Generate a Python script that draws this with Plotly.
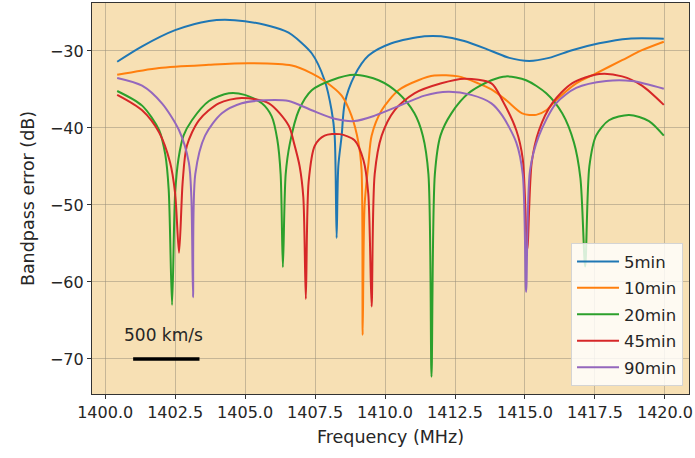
import plotly.graph_objects as go

# ---- data ----
f_5 = [1400.43, 1401.32, 1402.5, 1403.71, 1404.63, 1405.7, 1406.42, 1406.67, 1407.38, 1407.84,
       1408.09, 1408.2, 1408.27, 1408.33, 1408.45, 1408.56, 1408.91, 1409.41, 1410.23, 1411.41,
       1412.0, 1412.83, 1413.8, 1414.44, 1415.15, 1415.86, 1416.68, 1417.65, 1418.7, 1419.96]
db_5 = [-31.4, -29.4, -27.3, -26.1, -26.0, -26.6, -27.4, -27.9, -30.3, -33.8,
        -37.7, -41.0, -54.3, -45.0, -41.0, -36.8, -33.2, -30.6, -29.0, -28.1,
        -28.1, -28.7, -30.0, -30.9, -31.3, -30.9, -29.9, -29.0, -28.4, -28.4]

f_10 = [1400.43, 1401.93, 1403.7, 1405.13, 1406.67, 1407.38, 1407.84, 1408.45, 1408.8, 1409.05,
        1409.16, 1409.2, 1409.27, 1409.41, 1409.52, 1409.88, 1410.48, 1411.19, 1411.76, 1412.62,
        1413.33, 1413.8, 1414.33, 1414.9, 1415.4, 1415.76, 1416.11, 1416.83, 1417.54, 1418.47,
        1419.18, 1419.96]
db_10 = [-33.1, -32.2, -31.8, -31.6, -31.9, -32.9, -33.9, -35.8, -38.4, -41.9,
         -45.4, -66.9, -50.0, -44.5, -41.0, -37.7, -35.1, -33.8, -33.2, -33.3,
         -34.2, -35.0, -36.4, -38.1, -38.3, -37.7, -36.4, -34.2, -32.9, -31.2,
         -29.9, -28.8]

f_20 = [1400.43, 1401.32, 1401.93, 1402.15, 1402.27, 1402.39, 1402.5, 1402.62, 1402.8, 1403.1,
        1403.71, 1404.42, 1404.99, 1405.6, 1405.95, 1406.15, 1406.27, 1406.35, 1406.45, 1406.6,
        1406.92, 1407.38, 1408.09, 1408.91, 1409.77, 1410.48, 1411.05, 1411.35, 1411.55, 1411.66,
        1411.78, 1411.98, 1412.37, 1412.98, 1413.8, 1414.33, 1415.04, 1415.76, 1416.33, 1416.75,
        1416.98, 1417.15, 1417.3, 1417.54, 1418.0, 1418.72, 1419.43, 1419.96]
db_20 = [-35.2, -37.1, -40.3, -43.5, -48.0, -63.0, -48.5, -44.0, -41.0, -39.0,
         -36.5, -35.5, -35.7, -36.8, -38.5, -41.5, -46.0, -58.1, -46.0, -42.0,
         -37.7, -35.1, -33.8, -33.1, -33.8, -35.5, -38.1, -41.0, -46.0, -72.3,
         -46.0, -41.0, -38.1, -35.5, -33.8, -33.3, -33.8, -35.5, -38.1, -41.9,
         -46.5, -58.0, -45.0, -41.0, -39.0, -38.3, -39.1, -41.0]

f_45 = [1400.43, 1401.32, 1401.93, 1402.32, 1402.5, 1402.64, 1402.77, 1402.92, 1403.35, 1404.06,
        1404.88, 1405.85, 1406.56, 1406.75, 1406.95, 1407.08, 1407.17, 1407.27, 1407.49, 1407.84,
        1408.38, 1408.91, 1409.23, 1409.4, 1409.52, 1409.63, 1409.88, 1410.34, 1411.05, 1412.01,
        1412.83, 1413.8, 1414.19, 1414.69, 1414.92, 1415.08, 1415.24, 1415.5, 1415.97, 1416.68,
        1417.65, 1418.47, 1419.18, 1419.96]
db_45 = [-35.7, -37.7, -40.6, -44.5, -48.5, -56.2, -47.0, -42.3, -39.0, -36.8,
         -36.1, -36.8, -39.7, -42.0, -45.0, -49.0, -62.2, -47.0, -42.3, -41.0,
         -40.8, -41.6, -44.2, -48.5, -63.2, -46.0, -41.0, -37.7, -35.5, -34.2,
         -33.6, -34.2, -36.4, -40.3, -44.0, -55.8, -44.5, -40.3, -36.8, -34.2,
         -33.0, -33.3, -34.5, -37.0]

f_90 = [1400.43, 1401.32, 1402.03, 1402.64, 1402.99, 1403.08, 1403.14, 1403.22, 1403.57, 1404.17,
        1404.88, 1405.7, 1406.56, 1407.38, 1408.2, 1408.91, 1409.63, 1410.59, 1411.41, 1412.26,
        1413.08, 1413.8, 1414.19, 1414.69, 1414.92, 1415.04, 1415.18, 1415.5, 1416.11, 1416.83,
        1417.9, 1418.82, 1419.96]
db_90 = [-33.5, -34.5, -36.8, -40.3, -44.5, -49.0, -62.0, -46.0, -41.0, -38.1,
         -36.8, -36.4, -36.5, -37.7, -38.8, -39.1, -38.4, -37.0, -35.8, -35.3,
         -35.7, -36.8, -38.4, -41.9, -46.0, -61.3, -45.5, -41.0, -36.8, -34.8,
         -33.9, -33.9, -34.9]

series_names = ["5min", "10min", "20min", "45min", "90min"]
series_f = [f_5, f_10, f_20, f_45, f_90]
series_db = [db_5, db_10, db_20, db_45, db_90]
colors = ["#1f77b4", "#ff7f0e", "#2ca02c", "#d62728", "#9467bd"]

scalebar_f = [1401.0, 1403.37]
scalebar_db = [-70.0, -70.0]
scalebar_label = "500 km/s"

x_ticks = [1400.0, 1402.5, 1405.0, 1407.5, 1410.0, 1412.5, 1415.0, 1417.5, 1420.0]
y_ticks = [-30, -40, -50, -60, -70]

FONT = "DejaVu Sans, Liberation Sans, sans-serif"
TXT = "#262626"

fig = go.Figure()
for name, f, db, c in zip(series_names, series_f, series_db, colors):
    fig.add_trace(go.Scatter(x=f, y=db, mode="lines", name=name, legendgroup=name,
                             line=dict(color=c, width=2, shape="spline", smoothing=0.8)))

fig.add_trace(go.Scatter(x=scalebar_f, y=scalebar_db, mode="lines", showlegend=False,
                         line=dict(color="black", width=3.5), hoverinfo="skip"))
fig.add_annotation(x=sum(scalebar_f) / 2, y=scalebar_db[0], text=scalebar_label,
                   showarrow=False, yshift=24, xshift=-3,
                   font=dict(family=FONT, size=17, color=TXT))

fig.update_layout(
    width=695, height=458,
    margin=dict(l=92, r=6, t=3, b=64),
    paper_bgcolor="white",
    plot_bgcolor="#f7e0b4",
    font=dict(family=FONT, size=16, color=TXT),
    legend=dict(x=0.99, y=0.02, xanchor="right", yanchor="bottom",
                bgcolor="rgba(255,255,255,0.82)", bordercolor="#d4d4d4", borderwidth=1,
                font=dict(family=FONT, size=16.5, color=TXT),
                traceorder="grouped", tracegroupgap=2, itemwidth=42),
    showlegend=True,
)
fig.update_xaxes(range=[1399.53, 1420.86], tickvals=x_ticks, tickformat=".1f",
                 ticks="outside", ticklen=4, tickcolor="#333",
                 showline=True, linecolor="#333", linewidth=1.2, mirror=True,
                 showgrid=True, gridcolor="rgba(150,140,120,0.5)", gridwidth=1,
                 zeroline=False,
                 title=dict(text="Frequency (MHz)", font=dict(family=FONT, size=17.5, color=TXT),
                            standoff=9),
                 tickfont=dict(family=FONT, size=16, color=TXT))
fig.update_yaxes(range=[-74.55, -23.77], tickvals=y_ticks,
                 ticks="outside", ticklen=4, tickcolor="#333",
                 showline=True, linecolor="#333", linewidth=1.2, mirror=True,
                 showgrid=True, gridcolor="rgba(150,140,120,0.5)", gridwidth=1,
                 zeroline=False,
                 title=dict(text="Bandpass error (dB)", font=dict(family=FONT, size=17.5, color=TXT),
                            standoff=10),
                 tickfont=dict(family=FONT, size=16, color=TXT))

fig.write_html("out.html")
